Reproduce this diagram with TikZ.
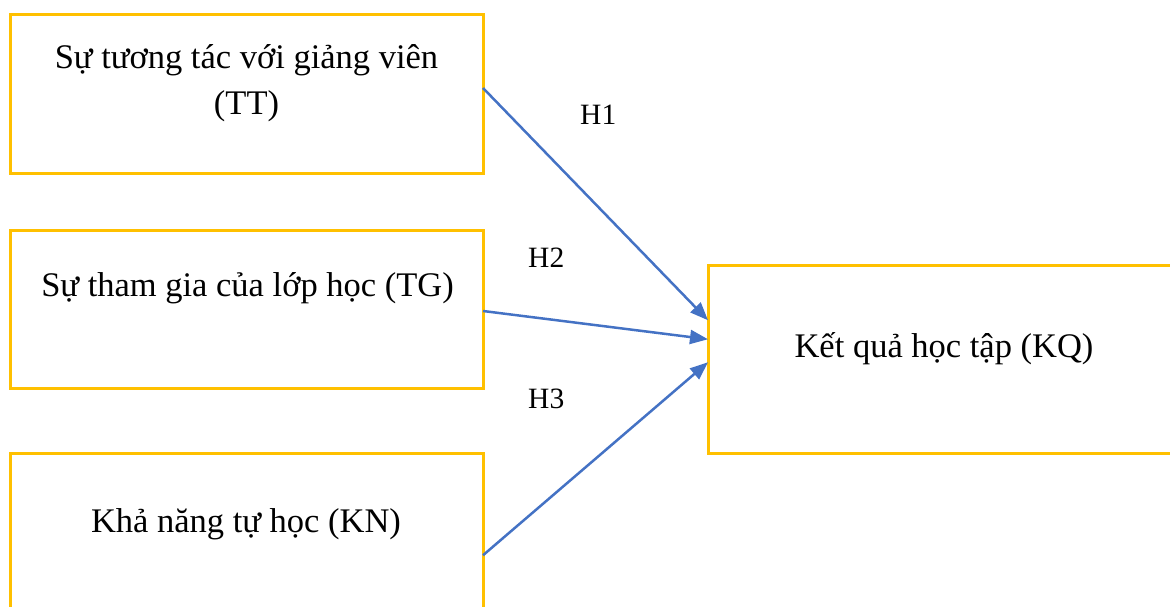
\documentclass[tikz,border=0pt]{standalone}
\usepackage{fontspec}
\setmainfont{Liberation Serif}
\usetikzlibrary{arrows.meta}
\definecolor{boxgold}{HTML}{FFC000}
\definecolor{linkblue}{HTML}{4472C4}
\tikzset{
  factor/.style={draw=boxgold, line width=3pt, rectangle, inner sep=0pt, outer sep=0pt},
  caption/.style={font=\fontsize{34.5}{46}\selectfont, align=center, anchor=base, inner sep=0pt},
  hyp/.style={font=\fontsize{29.5}{34}\selectfont, anchor=base west, inner sep=0pt},
  link/.style={draw=linkblue, line width=2.5pt, -{Triangle[length=18pt,width=14pt]}}
}
\begin{document}
\begin{tikzpicture}[x=1pt,y=-1pt]
\useasboundingbox (0,0) rectangle (1170,607);
\clip (0,0) rectangle (1170,607);
% factor boxes
\node[factor, minimum width=473pt, minimum height=158.5pt] (tt) at (246.5,94) {};
\node[factor, minimum width=473pt, minimum height=158pt] (tg) at (246.5,309) {};
\node[factor, minimum width=473pt, minimum height=166.5pt] (kn) at (246.5,536.75) {};
\node[factor, minimum width=482pt, minimum height=188.5pt] (kq) at (949,359.25) {};
% box texts (base anchor sits on the last line)
\node[caption] (ttl) at (246.5,115) {Sự tương tác với giảng viên\\(TT)};
\node[caption] (tgl) at (247.5,296) {Sự tham gia của lớp học (TG)};
\node[caption] (knl) at (246,532) {Khả năng tự học (KN)};
\node[caption] (kql) at (944,357) {Kết quả học tập (KQ)};
% hypotheses
\draw[link] ([yshift=6pt]tt.east) -- ([yshift=39pt]kq.west);
\draw[link] ([yshift=-2pt]tg.east) -- ([yshift=20pt]kq.west);
\draw[link] ([yshift=-18.5pt]kn.east) -- ([yshift=-3pt]kq.west);
\node[hyp] (h1) at (580,125) {H1};
\node[hyp] (h2) at (528,267) {H2};
\node[hyp] (h3) at (528,408) {H3};
\end{tikzpicture}
\end{document}
